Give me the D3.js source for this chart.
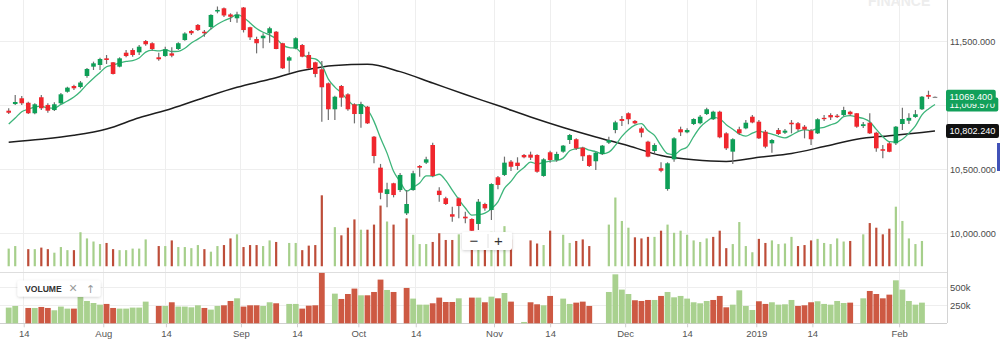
<!DOCTYPE html>
<html>
<head>
<meta charset="utf-8">
<script src="https://cdn.jsdelivr.net/npm/d3@7"></script>
<style>
  html, body { margin: 0; padding: 0; background: #fff; overflow: hidden; }
  svg { display: block; font-family: "Liberation Sans", Arial, Helvetica, sans-serif; }
</style>
</head>
<body>
<svg id="chart" width="1000" height="347"></svg>
<script>
// Daily OHLC, one entry per trading session
const open = [
  10961, 11013, 11058, 11023, 10941, 11066, 11006, 10966, 11019, 11109,
  11154, 11146, 11232, 11305, 11318, 11370, 11339, 11305, 11414, 11435,
  11417, 11505, 11488, 11378, 11388, 11409, 11443, 11513, 11584, 11631,
  11578, 11615, 11736, 11761, 11713, 11683, 11767, 11613, 11521, 11527,
  11566, 11578, 11488, 11352, 11448, 11474, 11396, 11339, 11284, 11175,
  10972, 11154, 11089, 11011, 10935, 10992, 10758, 10516, 10310, 10394,
  10341, 10159, 10341, 10529, 10555, 10693, 10336, 10277, 10152, 10277,
  10133, 10115, 10076, 10232, 10185, 10441, 10459, 10563, 10555, 10615,
  10618, 10615, 10451, 10636, 10576, 10641, 10732, 10738, 10672, 10613,
  10566, 10623, 10711, 10810, 10896, 10941, 10881, 10823, 10719, 10646,
  10511, 10349, 10581, 10816, 10792, 10857, 10863, 10935, 10894, 10953,
  10784, 10641, 10816, 10823, 10914, 10875, 10797, 10706, 10810, 10789,
  10867, 10863, 10836, 10805, 10784, 10905, 10927, 10922, 10927, 10953,
  10941, 10841, 10867, 10789, 10660, 10706, 10706, 10857, 10883, 10912,
  10972, 11084, 11069.4
];
const high = [
  10980, 11084, 11076, 11031, 11019, 11084, 11019, 11027, 11099, 11148,
  11164, 11193, 11295, 11344, 11375, 11396, 11341, 11378, 11435, 11448,
  11474, 11513, 11495, 11414, 11461, 11456, 11495, 11573, 11591, 11638,
  11591, 11714, 11775, 11767, 11722, 11734, 11771, 11617, 11539, 11566,
  11617, 11584, 11492, 11388, 11534, 11482, 11422, 11344, 11349, 11181,
  11078, 11162, 11097, 11019, 11031, 10998, 10763, 10545, 10398, 10398,
  10474, 10341, 10492, 10537, 10602, 10711, 10363, 10289, 10211, 10284,
  10172, 10120, 10271, 10242, 10394, 10451, 10602, 10576, 10597, 10623,
  10641, 10620, 10589, 10648, 10641, 10693, 10779, 10745, 10680, 10617,
  10641, 10693, 10758, 10883, 10920, 10948, 10888, 10836, 10727, 10706,
  10558, 10558, 10753, 10836, 10823, 10902, 10927, 10984, 10961, 10961,
  10792, 10745, 10836, 10888, 10927, 10888, 10810, 10740, 10826, 10818,
  10888, 10873, 10849, 10818, 10902, 10927, 10941, 10935, 10992, 10961,
  10943, 10873, 10941, 10797, 10693, 10716, 10841, 10984, 10941, 10966,
  11076, 11117, 11072
];
const low = [
  10935, 11006, 11006, 10935, 10933, 10966, 10945, 10959, 11013, 11102,
  11123, 11136, 11219, 11279, 11279, 11326, 11244, 11300, 11378, 11383,
  11396, 11469, 11430, 11352, 11383, 11378, 11435, 11508, 11552, 11584,
  11539, 11597, 11722, 11693, 11654, 11649, 11572, 11513, 11409, 11448,
  11492, 11441, 11287, 11258, 11441, 11378, 11287, 11222, 10875, 10888,
  10888, 10992, 10961, 10862, 10828, 10857, 10550, 10269, 10206, 10284,
  10326, 10146, 10336, 10445, 10545, 10441, 10250, 10224, 10094, 10120,
  10081, 10021, 10029, 10180, 10107, 10347, 10451, 10490, 10498, 10589,
  10576, 10477, 10445, 10555, 10563, 10633, 10701, 10654, 10568, 10521,
  10498, 10615, 10701, 10784, 10841, 10855, 10855, 10753, 10597, 10628,
  10480, 10336, 10563, 10763, 10784, 10849, 10855, 10927, 10888, 10745,
  10654, 10545, 10771, 10816, 10863, 10740, 10667, 10633, 10771, 10779,
  10784, 10802, 10745, 10693, 10779, 10880, 10888, 10904, 10920, 10920,
  10828, 10826, 10779, 10641, 10589, 10636, 10693, 10810, 10857, 10905,
  10966, 11052, 11067
];
const close = [
  10945, 11029, 11019, 10941, 11011, 10980, 10961, 11011, 11089, 11141,
  11136, 11181, 11287, 11331, 11365, 11357, 11248, 11370, 11388, 11396,
  11461, 11480, 11443, 11363, 11441, 11391, 11488, 11564, 11566, 11591,
  11566, 11709, 11748, 11705, 11695, 11709, 11591, 11534, 11488, 11547,
  11605, 11443, 11292, 11378, 11527, 11383, 11292, 11248, 11144, 10972,
  11070, 11063, 10972, 10935, 11011, 10862, 10607, 10320, 10347, 10302,
  10459, 10232, 10472, 10516, 10581, 10451, 10302, 10232, 10133, 10216,
  10120, 10023, 10250, 10198, 10388, 10381, 10555, 10523, 10529, 10597,
  10594, 10484, 10581, 10576, 10623, 10688, 10771, 10667, 10605, 10529,
  10633, 10688, 10732, 10870, 10881, 10894, 10862, 10789, 10602, 10693,
  10492, 10550, 10745, 10792, 10810, 10896, 10914, 10972, 10953, 10753,
  10667, 10738, 10784, 10867, 10869, 10745, 10680, 10732, 10779, 10805,
  10855, 10816, 10814, 10738, 10894, 10895, 10909, 10911, 10966, 10933,
  10836, 10855, 10784, 10667, 10648, 10640, 10836, 10896, 10905, 10933,
  11070.45, 11070, 11069.4
];
const volume = [
  218000, 241000, 0, 213000, 213000, 227000, 213000, 181000, 232000, 204000,
  204000, 366000, 310000, 282000, 259000, 269000, 213000, 204000, 204000, 218000,
  218000, 301000, 0, 241000, 241000, 292000, 232000, 232000, 222000, 250000,
  213000, 190000, 241000, 250000, 310000, 347000, 232000, 250000, 250000, 241000,
  292000, 278000, 0, 269000, 269000, 204000, 245000, 250000, 700000, 0,
  412000, 338000, 407000, 482000, 389000, 389000, 435000, 607000, 463000, 435000,
  0, 491000, 343000, 259000, 259000, 278000, 357000, 296000, 296000, 347000,
  0, 357000, 357000, 292000, 370000, 347000, 421000, 301000, 0, 18500,
  292000, 264000, 250000, 380000, 0, 343000, 269000, 287000, 301000, 241000,
  0, 0, 435000, 680000, 468000, 407000, 320000, 310000, 324000, 324000,
  380000, 435000, 361000, 380000, 343000, 292000, 278000, 310000, 324000, 380000,
  222000, 259000, 458000, 241000, 185000, 306000, 269000, 292000, 259000, 264000,
  324000, 241000, 250000, 292000, 306000, 269000, 259000, 310000, 282000, 287000,
  0, 347000, 449000, 407000, 347000, 398000, 597000, 468000, 310000, 259000,
  287000, 0, 0
];

// Short moving average: first values carried in, then a 5-session mean of closes
const maShortStart = [10857, 10904, 10953, 10972];
// Long moving average, sampled by session index
const maLongIdx = [0, 5, 10, 15, 20, 25, 30, 35, 40, 45, 50, 55, 60, 65, 70, 75, 80, 85, 90, 95, 100, 105, 110, 115, 120, 125, 130, 135, 140, 142];
const maLongVal = [10715, 10738, 10769, 10818, 10906, 10978, 11064, 11144, 11206, 11275, 11315, 11323, 11266, 11177, 11087, 11001, 10912, 10830, 10756, 10687, 10611, 10577, 10564, 10597, 10627, 10681, 10738, 10766, 10791, 10802.24];

const priceTicks = [10000, 10500, 11000, 11500];
const volumeTicks = [250000, 500000];
const dateTickPos = [2.3, 14.5, 24.1, 35.6, 44.2, 53.6, 62.4, 74.4, 83.0, 94.5, 104.0, 114.6, 123.2, 136.5];
const dateTickLabels = ["14", "Aug", "14", "Sep", "14", "Oct", "14", "Nov", "14", "Dec", "14", "2019", "14", "Feb"];

// ---- layout ----
const plotRight = 947;
const mainBottom = 266.5;
const lowTop = 272.5;
const lowBottom = 323.3;

const svg = d3.select("#chart");
const n = close.length;
const idx = d3.range(n);

const x = d3.scaleLinear().domain([0, n - 1]).range([8.7, 935]);
const yPrice = d3.scaleLinear().domain([10000, 11500]).range([233.7, 41.7]);
const yVolMain = d3.scaleLinear().domain([0, 700000]).range([272.7, 195.3]);
const yVolLow = d3.scaleLinear().domain([0, 500000]).range([lowBottom, 287.3]);

const defs = svg.append("defs");
defs.append("clipPath").attr("id", "mainClip")
  .append("rect").attr("x", 0).attr("y", 0).attr("width", plotRight).attr("height", mainBottom);
const shadow = defs.append("filter").attr("id", "soft")
  .attr("x", "-20%").attr("y", "-40%").attr("width", "140%").attr("height", "180%");
shadow.append("feDropShadow").attr("dx", 0).attr("dy", 1).attr("stdDeviation", 1.4)
  .attr("flood-color", "#000").attr("flood-opacity", 0.18);

// Watermark, sitting against the top edge
svg.append("text").attr("x", 868).attr("y", 6)
  .attr("font-size", 14).attr("font-weight", 700).attr("fill", "#ededed")
  .text("FINANCE");

// ---- grid ----
const grid = svg.append("g").attr("shape-rendering", "crispEdges");
grid.selectAll("line.v").data(dateTickPos).join("line")
  .attr("x1", d => x(d)).attr("x2", d => x(d))
  .attr("y1", 0).attr("y2", lowBottom)
  .attr("stroke", "#eeeeee");
grid.selectAll("line.hp").data(priceTicks).join("line")
  .attr("x1", 0).attr("x2", plotRight)
  .attr("y1", d => yPrice(d)).attr("y2", d => yPrice(d))
  .attr("stroke", "#eeeeee");
grid.selectAll("line.hv").data(volumeTicks).join("line")
  .attr("x1", 0).attr("x2", plotRight)
  .attr("y1", d => yVolLow(d)).attr("y2", d => yVolLow(d))
  .attr("stroke", "#eeeeee");

// panel frame lines
grid.append("line").attr("x1", 0).attr("x2", plotRight).attr("y1", lowTop).attr("y2", lowTop).attr("stroke", "#dedede");
grid.append("line").attr("x1", 0).attr("x2", plotRight).attr("y1", lowBottom).attr("y2", lowBottom).attr("stroke", "#cfcfcf");
grid.append("line").attr("x1", plotRight).attr("x2", plotRight).attr("y1", 0).attr("y2", lowBottom).attr("stroke", "#d4d4d4");

// volume colour follows the change from the previous close
const upDay = i => i === 0 || close[i] >= close[i - 1];

// ---- volume overlay in the price panel ----
const main = svg.append("g").attr("clip-path", "url(#mainClip)");
main.append("g").selectAll("rect").data(idx.filter(i => volume[i] > 0)).join("rect")
  .attr("x", i => x(i) - 1.1)
  .attr("width", 2.2)
  .attr("y", i => yVolMain(volume[i]))
  .attr("height", i => Math.max(0, mainBottom - yVolMain(volume[i])))
  .attr("fill", i => upDay(i) ? "#a6cf8b" : "#bd4d39");

// ---- moving averages ----
const maShort = idx.map(i => i < 4 ? maShortStart[i] : d3.mean(close.slice(i - 4, i + 1)));
const maLong = maLongIdx.map((k, j) => ({ i: k, v: maLongVal[j] }));

main.append("path")
  .datum(maLong)
  .attr("fill", "none").attr("stroke", "#1e1e1e").attr("stroke-width", 1.5)
  .attr("d", d3.line().x(d => x(d.i)).y(d => yPrice(d.v)).curve(d3.curveMonotoneX));

main.append("path")
  .datum(idx)
  .attr("fill", "none").attr("stroke", "#3db57a").attr("stroke-width", 1.3)
  .attr("d", d3.line().x(i => x(i)).y(i => yPrice(maShort[i])).curve(d3.curveMonotoneX));

// ---- candles ----
const candles = main.append("g");
candles.selectAll("line").data(idx).join("line")
  .attr("x1", i => x(i)).attr("x2", i => x(i))
  .attr("y1", i => yPrice(high[i])).attr("y2", i => yPrice(low[i]))
  .attr("stroke", "#6f6f6f").attr("stroke-width", 1.2);
candles.selectAll("rect").data(idx).join("rect")
  .attr("x", i => x(i) - 2.3)
  .attr("width", 4.6)
  .attr("y", i => yPrice(Math.max(open[i], close[i])))
  .attr("height", i => Math.max(1.2, Math.abs(yPrice(open[i]) - yPrice(close[i]))))
  .attr("fill", i => close[i] > open[i] ? "#0e9f57" : (close[i] < open[i] ? "#f0262d" : "#8a8a8a"));

// ---- lower volume panel ----
svg.append("g").selectAll("rect").data(idx.filter(i => volume[i] > 0)).join("rect")
  .attr("x", i => x(i) - 2.9)
  .attr("width", 5.8)
  .attr("y", i => yVolLow(volume[i]))
  .attr("height", i => lowBottom - yVolLow(volume[i]))
  .attr("fill", i => upDay(i) ? "#a9d18f" : "#cd5943");

// ---- axes ----
const priceAxis = svg.append("g").attr("transform", `translate(${plotRight},0)`)
  .call(d3.axisRight(yPrice).tickValues(priceTicks).tickSize(0).tickPadding(3)
    .tickFormat(d3.format(",.3f")));
const volAxis = svg.append("g").attr("transform", `translate(${plotRight},0)`)
  .call(d3.axisRight(yVolLow).tickValues(volumeTicks).tickSize(0).tickPadding(3)
    .tickFormat(d => (d / 1000) + "k"));
const dateAxis = svg.append("g").attr("transform", `translate(0,${lowBottom})`)
  .call(d3.axisBottom(x).tickValues(dateTickPos).tickSize(4).tickPadding(3)
    .tickFormat((d, i) => dateTickLabels[i]));

[priceAxis, volAxis, dateAxis].forEach(g => {
  g.select(".domain").remove();
  g.selectAll("text").attr("fill", "#4a4a4a").attr("font-family", "Liberation Sans, Arial, sans-serif");
});
priceAxis.selectAll("text").attr("font-size", 9.2);
volAxis.selectAll("text").attr("font-size", 9.5);
dateAxis.selectAll("text").attr("font-size", 9.5).attr("fill", "#555");
dateAxis.selectAll(".tick line").attr("stroke", "#cfcfcf");

// ---- value flags on the price axis ----
function flag(value, text, fill) {
  const g = svg.append("g");
  const t = g.append("text")
    .attr("x", plotRight + 2.5).attr("y", yPrice(value)).attr("dy", "0.35em")
    .attr("font-size", 9.2).attr("fill", "#fff").text(text);
  const w = t.node().getComputedTextLength();
  g.insert("rect", "text")
    .attr("x", plotRight - 1).attr("y", yPrice(value) - 7)
    .attr("width", w + 7).attr("height", 14).attr("rx", 2)
    .attr("fill", fill);
}
flag(maShort[n - 1], d3.format(",.3f")(maShort[n - 1]), "#12a05a");
flag(close[n - 1], d3.format(".3f")(close[n - 1]), "#12a05a");
flag(maLongVal[maLongVal.length - 1], d3.format(",.3f")(maLongVal[maLongVal.length - 1]), "#111");

// side marker
svg.append("rect").attr("x", 997).attr("y", 143).attr("width", 3).attr("height", 28).attr("fill", "#4152b8");

// ---- legend chip for the volume pane ----
const legend = svg.append("g");
legend.append("rect").attr("x", 17.5).attr("y", 280.5).attr("width", 83).attr("height", 16)
  .attr("rx", 2).attr("fill", "#fff").attr("filter", "url(#soft)");
legend.append("text").attr("x", 25).attr("y", 291.6).attr("font-size", 8.6)
  .attr("font-weight", 600).attr("fill", "#333").text("VOLUME");
legend.append("text").attr("x", 73).attr("y", 293).attr("text-anchor", "middle")
  .attr("font-size", 14).attr("fill", "#9a9a9a").text("×");
legend.append("text").attr("x", 90.5).attr("y", 293).attr("text-anchor", "middle")
  .attr("font-family", "DejaVu Sans, sans-serif")
  .attr("font-size", 11).attr("fill", "#9a9a9a").text("↑");

// ---- zoom buttons ----
const zoomCtl = svg.append("g");
zoomCtl.append("rect").attr("x", 462).attr("y", 232).attr("width", 50).attr("height", 18)
  .attr("rx", 2).attr("fill", "#fff").attr("filter", "url(#soft)");
zoomCtl.append("line").attr("x1", 488).attr("x2", 488).attr("y1", 234).attr("y2", 248).attr("stroke", "#e2e2e2");
zoomCtl.append("text").attr("x", 474).attr("y", 246).attr("text-anchor", "middle")
  .attr("font-size", 15).attr("fill", "#333").text("−");
zoomCtl.append("text").attr("x", 498.5).attr("y", 246).attr("text-anchor", "middle")
  .attr("font-size", 15).attr("fill", "#333").text("+");
</script>
</body>
</html>
